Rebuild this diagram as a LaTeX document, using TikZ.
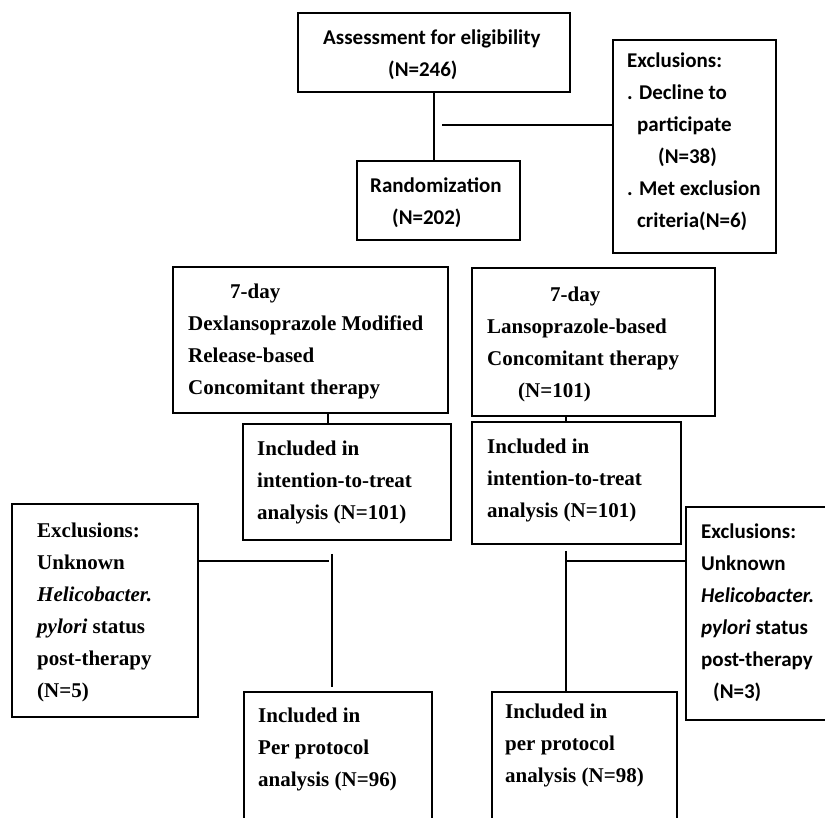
\documentclass[tikz,border=0pt]{standalone}
\usepackage{fontspec}
\setmainfont{Liberation Serif}
\newfontfamily\calibfont{Carlito}
\usetikzlibrary{fit}
\begin{document}
\begin{tikzpicture}[x=1pt,y=-1pt,
  box/.style={draw, line width=1.6pt, inner sep=0pt, rectangle},
  conn/.style={draw, line width=1.6pt},
  tms/.style={anchor=north west, inner sep=0pt, align=left, font=\fontsize{21}{32}\selectfont\bfseries},
  cal/.style={anchor=north west, inner sep=0pt, align=left, font=\fontsize{21}{32}\selectfont\calibfont\bfseries}]
\useasboundingbox (0,0) rectangle (825,817);
\clip (0,0) rectangle (825,817);
\fill[white] (0,0) rectangle (825,817);
% boxes
\node[box, fit={(298,13) (570,92)}] (assess) {};
\node[box, fit={(357,161) (520,240)}] (rand) {};
\node[box, fit={(613,40) (776,253)}] (excl) {};
\node[box, fit={(173,267) (448,413)}] (dex) {};
\node[box, fit={(472,268) (715,416)}] (lanso) {};
\node[box, fit={(243,424) (451,540)}] (itl) {};
\node[box, fit={(472,422) (681,544)}] (itr) {};
\node[box, fit={(12,504) (198,717)}] (exl) {};
\node[box, fit={(686,507) (840,720)}] (exr) {};
\node[box, fit={(244,692) (432,840)}] (ppl) {};
\node[box, fit={(492,692) (677,840)}] (ppr) {};
% texts
\node[cal] (t-assess) at (323,26) {\rule{0pt}{18pt}Assessment for eligibility\\\hspace*{65pt}(N=246)};
\node[cal] (t-rand) at (370,174) {\rule{0pt}{18pt}Randomization\\\hspace*{22pt}(N=202)};
\node[cal] (t-excl) at (627,49) {\rule{0pt}{18pt}Exclusions:\\. Decline to\\\hspace*{10pt}participate\\\hspace*{31pt}(N=38)\\. Met exclusion\\\hspace*{10pt}criteria(N=6)};
\node[tms] (t-dex) at (188,280) {\rule{0pt}{18pt}\hspace*{42pt}7-day\\Dexlansoprazole Modified\\Release-based\\Concomitant therapy};
\node[tms] (t-lanso) at (487,283) {\rule{0pt}{18pt}\hspace*{63pt}7-day\\Lansoprazole-based\\Concomitant therapy\\\hspace*{31pt}(N=101)};
\node[tms] (t-itl) at (257,437) {\rule{0pt}{18pt}Included in\\intention-to-treat\\analysis (N=101)};
\node[tms] (t-itr) at (487,435) {\rule{0pt}{18pt}Included in\\intention-to-treat\\analysis (N=101)};
\node[tms] (t-exl) at (37,519) {\rule{0pt}{18pt}Exclusions:\\Unknown\\\textit{Helicobacter.}\\\textit{pylori} status\\post-therapy\\(N=5)};
\node[cal] (t-exr) at (701,520) {\rule{0pt}{18pt}Exclusions:\\Unknown\\\textit{Helicobacter.}\\\textit{pylori} status\\post-therapy\\\hspace*{12pt}(N=3)};
\node[tms] (t-ppl) at (258,704) {\rule{0pt}{18pt}Included in\\Per protocol\\analysis (N=96)};
\node[tms] (t-ppr) at (505,700) {\rule{0pt}{18pt}Included in\\per protocol\\analysis (N=98)};
% connector coordinates
\coordinate (j1) at (442,125);
\coordinate (c2) at (328,0);
\coordinate (c3) at (566,0);
\coordinate (c4) at (332,0);
\coordinate (c5) at (0,561);
% connectors
\draw[conn] (assess.south) -- (assess.south |- rand.north);
\draw[conn] (j1) -- (j1 -| excl.west);
\draw[conn] (dex.south -| c2) -- (itl.north -| c2);
\draw[conn] (lanso.south -| c3) -- (itr.north -| c3);
\draw[conn, shorten <=13pt, shorten >=4pt] (itl.south -| c4) -- (ppl.north -| c4);
\draw[conn, shorten <=6pt] (itr.south -| c3) -- (ppr.north -| c3);
\draw[conn, shorten >=3pt] (exl.east |- c5) -- (c4 |- c5);
\draw[conn] (c3 |- c5) -- (exr.west |- c5);
\end{tikzpicture}
\end{document}
